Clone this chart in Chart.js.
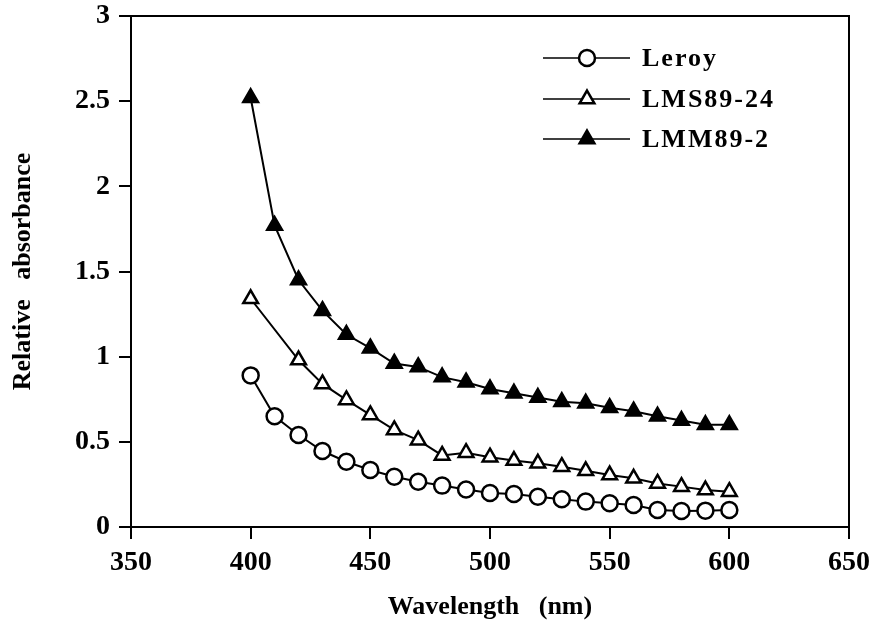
<!doctype html>
<html>
<head>
<meta charset="utf-8">
<script src="https://cdn.jsdelivr.net/npm/chart.js"></script>
<style>
  html, body { margin: 0; padding: 0; background: #fff; }
  #wrap { width: 883px; height: 627px; }
</style>
</head>
<body>
<div id="wrap"><canvas id="absChart" width="883" height="627"></canvas></div>
<script>
// --- data ---
const wavelengths = [400, 410, 420, 430, 440, 450, 460, 470, 480, 490, 500,
                     510, 520, 530, 540, 550, 560, 570, 580, 590, 600];
const leroy = [0.89, 0.65, 0.54, 0.446, 0.383, 0.335, 0.295, 0.266, 0.243, 0.22, 0.20,
               0.194, 0.178, 0.163, 0.149, 0.139, 0.129, 0.10, 0.094, 0.096, 0.10];
// LMS89-24 has no point at 410 nm
const lmsWavelengths = [400, 420, 430, 440, 450, 460, 470, 480, 490, 500,
                        510, 520, 530, 540, 550, 560, 570, 580, 590, 600];
const lms8924 = [1.34, 0.98, 0.84, 0.746, 0.658, 0.57, 0.51, 0.42, 0.436, 0.41,
                 0.39, 0.374, 0.354, 0.33, 0.305, 0.286, 0.256, 0.237, 0.217, 0.207];
const lmm892 = [2.52, 1.77, 1.45, 1.27, 1.13, 1.05, 0.96, 0.94, 0.88, 0.85, 0.81,
                0.785, 0.76, 0.735, 0.726, 0.70, 0.68, 0.65, 0.625, 0.60, 0.60];
const seriesNames = ['Leroy', 'LMS89-24', 'LMM89-2'];
const xTicks = [350, 400, 450, 500, 550, 600, 650];
const yTicks = [0, 0.5, 1, 1.5, 2, 2.5, 3];

const FONT = "'Liberation Serif', 'DejaVu Serif', serif";

function pts(xs, ys) {
    return xs.map(function (x, i) { return { x: x, y: ys[i] }; });
}

const styles = [
    { pointStyle: 'circle', radius: 8, fill: '#fff' },
    { pointStyle: 'triangle', radius: 8.5, fill: '#fff' },
    { pointStyle: 'triangle', radius: 8.5, fill: '#000' }
];

const data = {
    datasets: [
        pts(wavelengths, leroy),
        pts(lmsWavelengths, lms8924),
        pts(wavelengths, lmm892)
    ].map(function (d, i) {
        return {
            label: seriesNames[i],
            data: d,
            showLine: true,
            tension: 0,
            borderColor: '#000',
            borderWidth: 2,
            pointStyle: styles[i].pointStyle,
            pointRadius: styles[i].radius,
            pointBackgroundColor: styles[i].fill,
            pointBorderColor: '#000',
            pointBorderWidth: 2.5
        };
    })
};

// box around plot area + legend drawn inside the plot
const framePlugin = {
    id: 'frame',
    afterDatasetsDraw: function (chart) {
        const a = chart.chartArea, ctx = chart.ctx;
        ctx.save();
        ctx.strokeStyle = '#000';
        ctx.lineWidth = 2;
        ctx.strokeRect(a.left, a.top, a.right - a.left, a.bottom - a.top);

        // legend
        const rowY = [58, 99, 139];
        ctx.font = 'bold 26px ' + FONT;
        ctx.letterSpacing = '2px';
        ctx.textBaseline = 'middle';
        ctx.fillStyle = '#000';
        chart.data.datasets.forEach(function (ds, i) {
            const y = rowY[i];
            ctx.beginPath();
            ctx.lineWidth = 1.5;
            ctx.moveTo(543, y);
            ctx.lineTo(630, y);
            ctx.stroke();
            ctx.lineWidth = 2.5;
            ctx.fillStyle = ds.pointBackgroundColor;
            Chart.helpers.drawPoint(ctx, {
                pointStyle: ds.pointStyle,
                radius: ds.pointRadius,
                borderWidth: 2.5,
                rotation: 0
            }, 587, y);
            ctx.fillStyle = '#000';
            ctx.fillText(ds.label, 642, y + 1);
        });
        ctx.restore();
    }
};

const tickFont = { family: FONT, size: 28, weight: 'bold' };

const config = {
    type: 'scatter',
    data: data,
    options: {
        responsive: false,
        animation: false,
        events: [],
        layout: { padding: { top: 16, right: 34, left: 0, bottom: 0 } },
        plugins: { legend: { display: false }, tooltip: { enabled: false } },
        scales: {
            x: {
                type: 'linear',
                min: 350, max: 650,
                afterBuildTicks: function (s) { s.ticks = xTicks.map(function (v) { return { value: v }; }); },
                afterFit: function (s) { s.height = 100; s.paddingLeft = 0; s.paddingRight = 0; },
                grid: { drawOnChartArea: false, drawTicks: true, tickLength: 12, color: '#000', lineWidth: 2 },
                border: { display: true, color: '#000', width: 2 },
                ticks: { color: '#000', font: tickFont, padding: 7, maxRotation: 0,
                         callback: function (v) { return String(v); } },
                title: { display: true, text: 'Wavelength   (nm)', color: '#000',
                         font: { family: FONT, size: 26, weight: 'bold' }, padding: { top: 0 } }
            },
            y: {
                min: 0, max: 3,
                afterBuildTicks: function (s) { s.ticks = yTicks.map(function (v) { return { value: v }; }); },
                afterFit: function (s) { s.width = 131; s.paddingTop = 0; s.paddingBottom = 0; },
                grid: { drawOnChartArea: false, drawTicks: true, tickLength: 12, color: '#000', lineWidth: 2 },
                border: { display: true, color: '#000', width: 2 },
                ticks: { color: '#000', font: tickFont, padding: 9,
                         callback: function (v) { return String(v); } },
                title: { display: true, text: 'Relative   absorbance', color: '#000',
                         font: { family: FONT, size: 26, weight: 'bold' }, padding: { top: 8, bottom: 0 } }
            }
        }
    },
    plugins: [framePlugin]
};

const absChart = new Chart(document.getElementById('absChart').getContext('2d'), config);
</script>
</body>
</html>
